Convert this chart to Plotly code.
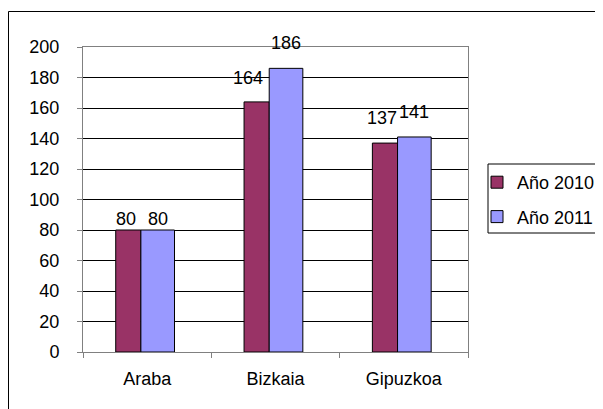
import plotly.graph_objects as go

# ---- data ----
categories = ["Araba", "Bizkaia", "Gipuzkoa"]
series_names = ["Año 2010", "Año 2011"]
values_2010 = [80, 164, 137]
values_2011 = [80, 186, 141]
y_ticks = [0, 20, 40, 60, 80, 100, 120, 140, 160, 180, 200]

# ---- style ----
W, H = 603, 409
OX, OY = 8, 8            # page body margin offset in the browser
# plot area in screen pixels: x 83..468, y 47..352
PX0, PX1, PY0, PY1 = 83, 468, 47, 352
L = PX0 - OX
T = PY0 - OY
plot_w = PX1 - PX0
plot_h = PY1 - PY0
R = W - L - plot_w
B = H - T - plot_h
px_per_cat = plot_w / len(categories)
FONT = "Liberation Sans, Arial, sans-serif"
FS = 18
colors = ["#993366", "#9999FF"]
offsets = [-0.245, -0.049]
widths = [0.196, 0.262]
label_gap = [[11, 24, 25], [11, 25, 25]]
label_dx = [[-2, -9, -3], [0, 0, 0]]

def px_x(px):
    return (px - PX0) / plot_w

def px_y(py):
    return (PY1 - py) / plot_h

fig = go.Figure()
all_vals = [values_2010, values_2011]
for i, (name, vals) in enumerate(zip(series_names, all_vals)):
    fig.add_trace(go.Bar(
        x=categories, y=vals, name=name,
        marker=dict(color=colors[i], line=dict(color="#000000", width=1)),
        offset=offsets[i], width=widths[i],
        legendgroup=name,
    ))

annotations = []
for i, vals in enumerate(all_vals):
    center_px = (offsets[i] + widths[i] / 2) * px_per_cat
    for j, (cat, v) in enumerate(zip(categories, vals)):
        annotations.append(dict(
            x=cat, y=v, xref="x", yref="y", text=str(v), showarrow=False,
            xshift=center_px + label_dx[i][j], yshift=label_gap[i][j],
            xanchor="center", yanchor="middle",
            font=dict(family=FONT, size=FS, color="#000000"),
        ))

shapes = [
    # outer chart border
    dict(type="rect", xref="paper", yref="paper",
         x0=px_x(8.5), x1=px_x(720), y0=px_y(520), y1=px_y(11.5),
         line=dict(color="#000000", width=1), fillcolor="rgba(0,0,0,0)", layer="below"),
    # legend border
    dict(type="rect", xref="paper", yref="paper",
         x0=px_x(488), x1=px_x(720), y0=px_y(233), y1=px_y(164),
         line=dict(color="#000000", width=1), fillcolor="rgba(0,0,0,0)", layer="above"),
]

fig.update_layout(
    width=W, height=H, autosize=False,
    margin=dict(l=L, r=R, t=T, b=B, pad=0, autoexpand=False),
    paper_bgcolor="#FFFFFF", plot_bgcolor="#FFFFFF",
    font=dict(family=FONT, size=FS, color="#000000"),
    barmode="group",
    showlegend=True,
    legend=dict(
        x=px_x(477), y=px_y(164), xanchor="left", yanchor="top",
        bgcolor="rgba(0,0,0,0)", borderwidth=0,
        font=dict(family=FONT, size=FS, color="#000000"),
        traceorder="grouped", tracegroupgap=8,
    ),
    annotations=annotations,
    shapes=shapes,
    xaxis=dict(
        type="category", categoryorder="array", categoryarray=categories,
        showgrid=False, zeroline=False,
        showline=True, linecolor="#808080", linewidth=1, mirror=True,
        ticks="outside", tickson="boundaries", ticklen=5, tickcolor="#808080",
        ticklabelstandoff=10, automargin=False,
        tickfont=dict(family=FONT, size=FS, color="#000000"),
    ),
    yaxis=dict(
        range=[0, 200], tickvals=y_ticks,
        showgrid=True, gridcolor="#000000", gridwidth=1, zeroline=False,
        showline=True, linecolor="#808080", linewidth=1, mirror=True,
        ticks="outside", ticklen=5, tickcolor="#808080",
        ticklabelstandoff=14, automargin=False,
        tickfont=dict(family=FONT, size=FS, color="#000000"),
    ),
)

fig.write_html("out.html")
